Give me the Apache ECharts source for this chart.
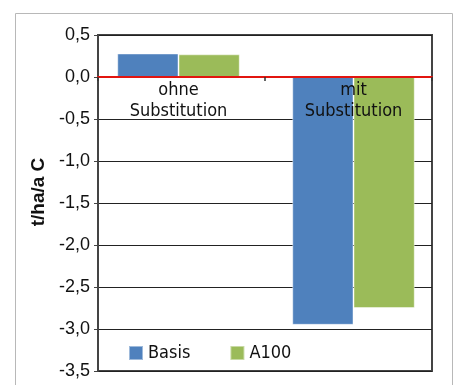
<!DOCTYPE html>
<html>
<head>
<meta charset="utf-8">
<script src="https://cdn.jsdelivr.net/npm/echarts@6/dist/echarts.min.js"></script>
<style>
html, body { margin: 0; padding: 0; background: #fff; }
#chart { width: 460px; height: 385px; }
</style>
</head>
<body>
<div id="chart"></div>
<script>
// Kohlenstoffbilanz in t/ha/a C
const categories = ['ohne\nSubstitution', 'mit\nSubstitution'];
const seriesNames = ['Basis', 'A100'];
const basis = [0.28, -2.95];
const a100 = [0.27, -2.75];
const yMin = -3.5;
const yMax = 0.5;
const yStep = 0.5;

const colors = { Basis: '#4F81BD', A100: '#9BBB59' };
const tickFont = 'Liberation Sans';
const narrowFont = '"DejaVu Sans Condensed", "Liberation Sans", sans-serif';

const chart = echarts.init(document.getElementById('chart'), null, { renderer: 'canvas' });

const fmt = v => v.toFixed(1).replace('.', ',');

chart.setOption({
  animation: false,
  backgroundColor: '#fff',
  graphic: [{
    type: 'rect',
    shape: { x: 15.5, y: 13.5, width: 437, height: 400 },
    style: { fill: 'none', stroke: '#b8b8b8', lineWidth: 1 },
    z: -1
  }],
  grid: [
    { left: 98, right: 28, top: 35, bottom: 14, outerBoundsMode: 'none', containLabel: false,
      show: true, borderColor: '#444', borderWidth: 2, backgroundColor: 'transparent' },
    { left: 91, right: 19, top: 35, bottom: 14, outerBoundsMode: 'none', containLabel: false }
  ],
  legend: {
    data: seriesNames,
    left: 123,
    top: 339,
    icon: 'rect',
    itemWidth: 14,
    itemHeight: 14,
    itemGap: 39,
    textStyle: { fontFamily: narrowFont, fontSize: 18, color: '#111' }
  },
  yAxis: [
    {
      gridIndex: 0,
      type: 'value',
      min: yMin, max: yMax, interval: yStep,
      name: 't/ha/a C',
      nameLocation: 'middle',
      nameGap: 39,
      nameTextStyle: { fontFamily: tickFont, fontWeight: 'bold', fontSize: 19, color: '#111', padding: [0, 0, 0, 22] },
      axisLine: { show: true, onZero: false, lineStyle: { color: '#444', width: 2 } },
      axisTick: { show: true, length: 4, lineStyle: { color: '#444', width: 1 } },
      axisLabel: { fontFamily: tickFont, fontSize: 18, color: '#111', margin: 8, formatter: fmt },
      splitLine: { show: true, lineStyle: { color: '#222', width: 1 } }
    },
    {
      gridIndex: 1,
      type: 'value',
      min: yMin, max: yMax, interval: yStep,
      axisLine: { show: false, onZero: false },
      axisTick: { show: false },
      axisLabel: { show: false },
      splitLine: { show: false }
    }
  ],
  xAxis: [
    {
      gridIndex: 0,
      type: 'category',
      data: categories,
      z: 5,
      axisLine: { show: true, onZero: true, lineStyle: { color: '#e2150f', width: 2 } },
      axisTick: { show: true, length: 4, lineStyle: { color: '#333', width: 1.5 } },
      axisLabel: { show: false },
      splitLine: { show: false }
    },
    {
      gridIndex: 1,
      type: 'category',
      data: categories,
      position: 'bottom',
      offset: 0,
      z: 5,
      axisLine: { show: false, onZero: false },
      axisTick: { show: false },
      axisLabel: { show: true, fontFamily: narrowFont, fontSize: 18, lineHeight: 21, color: '#111', margin: 3 },
      splitLine: { show: false }
    }
  ],
  series: [
    {
      name: 'Basis', type: 'bar', xAxisIndex: 1, yAxisIndex: 1,
      data: basis, barGap: '0%', barCategoryGap: '30%',
      itemStyle: { color: colors.Basis, borderColor: 'rgba(255,255,255,0.45)', borderWidth: 1 }
    },
    {
      name: 'A100', type: 'bar', xAxisIndex: 1, yAxisIndex: 1,
      data: a100, barGap: '0%', barCategoryGap: '30%',
      itemStyle: { color: colors.A100, borderColor: 'rgba(255,255,255,0.45)', borderWidth: 1 }
    }
  ]
});

// Lift the category labels up to the zero line of the value scale
const zeroY = chart.convertToPixel({ yAxisIndex: 1 }, 0);
const baseY = chart.convertToPixel({ yAxisIndex: 1 }, yMin);
chart.setOption({ xAxis: [{}, { offset: zeroY - baseY }] });
</script>
</body>
</html>
